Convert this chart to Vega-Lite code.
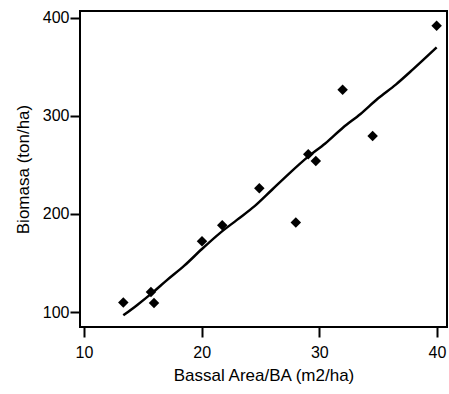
{
  "$schema": "https://vega.github.io/schema/vega-lite/v6.json",
  "autosize": "none",
  "width": 367,
  "height": 316,
  "padding": {"left": 80, "top": 11, "right": 2, "bottom": 67},
  "background": "white",
  "config": {
    "view": {"stroke": "black", "strokeWidth": 2},
    "font": "Liberation Sans",
    "axis": {
      "grid": false,
      "domain": false,
      "ticks": true,
      "tickColor": "black",
      "tickWidth": 2,
      "tickSize": 10,
      "labelColor": "black",
      "labelFontSize": 16,
      "labelFont": "Liberation Sans",
      "titleFont": "Liberation Sans",
      "titleFontSize": 17,
      "titleFontWeight": "normal",
      "titleColor": "black"
    }
  },
  "datasets": {
    "obs": [
      {"ba": 13.34, "bio": 109.6},
      {"ba": 15.69, "bio": 120.4},
      {"ba": 15.95, "bio": 109.2},
      {"ba": 20.03, "bio": 172.3},
      {"ba": 21.75, "bio": 188.6},
      {"ba": 24.9, "bio": 226.2},
      {"ba": 28.0, "bio": 191.4},
      {"ba": 29.06, "bio": 260.9},
      {"ba": 29.7, "bio": 254.1},
      {"ba": 31.98, "bio": 326.7},
      {"ba": 34.53, "bio": 279.6},
      {"ba": 39.97, "bio": 392.1}
    ],
    "fit": [
      {"ba": 13.34, "bio": 96.6},
      {"ba": 14.5, "bio": 107},
      {"ba": 15.75, "bio": 119},
      {"ba": 17.0, "bio": 132},
      {"ba": 18.5, "bio": 147},
      {"ba": 20.0, "bio": 164},
      {"ba": 21.5, "bio": 180},
      {"ba": 23.0, "bio": 194},
      {"ba": 24.5, "bio": 208},
      {"ba": 26.0, "bio": 225},
      {"ba": 27.5, "bio": 242},
      {"ba": 29.0, "bio": 258},
      {"ba": 30.5, "bio": 272},
      {"ba": 32.0, "bio": 288},
      {"ba": 33.5, "bio": 302},
      {"ba": 35.0, "bio": 318},
      {"ba": 36.5, "bio": 332},
      {"ba": 38.0, "bio": 348},
      {"ba": 39.97, "bio": 369.9}
    ]
  },
  "layer": [
    {
      "data": {"name": "fit"},
      "mark": {"type": "line", "color": "black", "strokeWidth": 2.5, "interpolate": "monotone"},
      "encoding": {
        "x": {"field": "ba", "type": "quantitative", "scale": {"domain": [9.66, 40.85], "nice": false, "zero": false},
              "axis": {"values": [10, 20, 30, 40], "title": "Bassal Area/BA (m2/ha)", "labelPadding": 7, "titlePadding": 7}},
        "y": {"field": "bio", "type": "quantitative", "scale": {"domain": [84.7, 407.1], "nice": false, "zero": false},
              "axis": {"values": [100, 200, 300, 400], "title": "Biomasa (ton/ha)", "labelPadding": 1, "titlePadding": 10}}
      }
    },
    {
      "data": {"name": "obs"},
      "mark": {"type": "point", "shape": "diamond", "filled": true, "color": "black", "opacity": 1, "size": 110},
      "encoding": {
        "x": {"field": "ba", "type": "quantitative"},
        "y": {"field": "bio", "type": "quantitative"}
      }
    }
  ]
}
